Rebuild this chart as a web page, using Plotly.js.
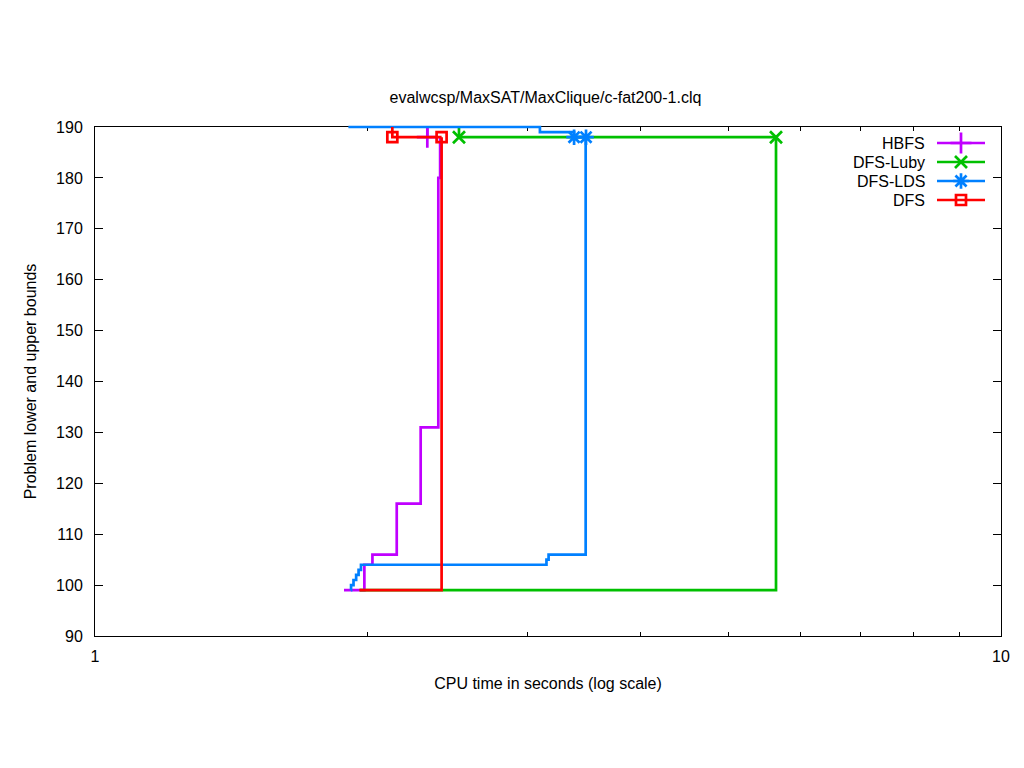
<!DOCTYPE html>
<html>
<head>
<meta charset="utf-8">
<script src="https://cdn.plot.ly/plotly-3.0.1.min.js"></script>
<style>html,body{margin:0;padding:0;background:#fff;}#chart{width:1024px;height:768px;}</style>
</head>
<body>
<div id="chart"></div>
<script>
// ---- data (CPU time in seconds, bound value) ----
const seriesNames = ["HBFS", "DFS-Luby", "DFS-LDS", "DFS"];
const seriesColors = ["#c000ff", "#00c000", "#0080ff", "#ff0000"];
const seriesSymbols = ["cross-thin-open", "x-thin-open", "asterisk-open", "square-open"];

// lower bounds
const hbfsLowT = [1.883, 1.983, 2.024, 2.153, 2.288, 2.393, 2.404];
const hbfsLowV = [99, 104, 106, 116, 131, 180, 188];
const lubyLowT = [1.960, 5.645];
const lubyLowV = [99, 188];
const ldsLowT = [1.916, 1.917, 1.929, 1.942, 1.954, 1.966, 3.150, 3.167, 3.480];
const ldsLowV = [99, 100, 101, 102, 103, 104, 105, 106, 188];
const dfsLowT = [1.958, 2.413];
const dfsLowV = [99, 188];

// upper bounds
const hbfsUpT = [2.327, 2.327];
const hbfsUpV = [190, 188];
const lubyUpT = [2.522, 2.522, 5.645];
const lubyUpV = [190, 188, 188];
const ldsUpT = [1.904, 3.098, 3.379, 3.483];
const ldsUpV = [190, 189, 188, 188];
const dfsUpT = [2.129, 2.129, 2.413];
const dfsUpV = [190, 188, 188];

// solutions found
const hbfsSolT = [2.327];
const hbfsSolV = [188];
const lubySolT = [2.522, 5.645];
const lubySolV = [188, 188];
const ldsSolT = [3.379, 3.483];
const ldsSolV = [188, 188];
const dfsSolT = [2.129, 2.413];
const dfsSolV = [188, 188];

const xTickVals = [1, 10];
const xTickText = ["1", "10"];
const xMinorVals = [2, 3, 4, 5, 6, 7, 8, 9];
const yTickVals = [90, 100, 110, 120, 130, 140, 150, 160, 170, 180, 190];
const yMin = 90, yMax = 190, xLogMin = 0, xLogMax = 1;

// ---- build ----
const LW = 2.7;
const FONT = "Liberation Sans, Arial, sans-serif";
const FS = 16;
const markerSizes = [15, 12, 13, 10];

// geometry: main plot area 509 px high; an extra 5 px on top for an unclipped copy of the y scale
const MT = 122, MB = 132, H = 768 - MT - MB, PLOT_H = 509;
const yTopExt = yMin + H * (yMax - yMin) / PLOT_H;

const all = [
  [hbfsLowT, hbfsLowV, hbfsUpT, hbfsUpV, hbfsSolT, hbfsSolV],
  [lubyLowT, lubyLowV, lubyUpT, lubyUpV, lubySolT, lubySolV],
  [ldsLowT, ldsLowV, ldsUpT, ldsUpV, ldsSolT, ldsSolV],
  [dfsLowT, dfsLowV, dfsUpT, dfsUpV, dfsSolT, dfsSolV]
];

const traces = [];
all.forEach((s, i) => {
  const c = seriesColors[i];
  traces.push({x: s[0], y: s[1], mode: "lines", line: {color: c, width: LW, shape: "hv"}, showlegend: false, hoverinfo: "skip"});
  traces.push({x: s[2], y: s[3], xaxis: "x5", yaxis: "y3", mode: "lines", line: {color: c, width: LW, shape: "hv"}, showlegend: false, hoverinfo: "skip"});
  traces.push({x: s[4], y: s[5], xaxis: "x5", yaxis: "y3", mode: "markers", marker: {symbol: seriesSymbols[i], size: markerSizes[i], color: c, line: {color: c, width: LW}}, showlegend: false, name: seriesNames[i], cliponaxis: false});
});

// custom gnuplot-style key (overlay axes in pixel units)
const annotations = [];
const keyRowsY = [143, 162, 181, 200];
seriesNames.forEach((n, i) => {
  const c = seriesColors[i];
  traces.push({x: [937, 985], y: [keyRowsY[i], keyRowsY[i]], xaxis: "x2", yaxis: "y2", mode: "lines", line: {color: c, width: LW}, showlegend: false, hoverinfo: "skip"});
  traces.push({x: [961], y: [keyRowsY[i]], xaxis: "x2", yaxis: "y2", mode: "markers", marker: {symbol: seriesSymbols[i], size: markerSizes[i], color: c, line: {color: c, width: LW}}, showlegend: false, hoverinfo: "skip"});
  annotations.push({xref: "x2", yref: "y2", x: 927, y: keyRowsY[i], text: n, showarrow: false, xanchor: "right", yanchor: "middle", font: {family: FONT, size: FS, color: "#000"}});
});

const layout = {
  width: 1024, height: 768,
  margin: {l: 95, r: 23, t: MT, b: MB},
  paper_bgcolor: "#fff", plot_bgcolor: "rgba(0,0,0,0)",
  font: {family: FONT, size: FS, color: "#000"},
  showlegend: false,
  title: {text: "evalwcsp/MaxSAT/MaxClique/c-fat200-1.clq", font: {family: FONT, size: FS, color: "#000"}, x: 0.5327, xanchor: "center", y: 1 - 97/768, yref: "container", yanchor: "middle"},
  xaxis: {
    type: "log", range: [xLogMin, xLogMax], tickvals: xTickVals, ticktext: xTickText,
    ticks: "inside", ticklen: 8, tickcolor: "#000", tickwidth: 1,
    showline: true, linecolor: "#000", linewidth: 1, mirror: "allticks",
    showgrid: false, zeroline: false,
    minor: {tickvals: xMinorVals, ticks: "inside", ticklen: 4, tickcolor: "#000", tickwidth: 1, showgrid: false},
    ticklabelstandoff: 6,
    title: {text: "CPU time in seconds (log scale)", font: {family: FONT, size: FS, color: "#000"}, standoff: 13}
  },
  xaxis5: {type: "log", range: [xLogMin, xLogMax], overlaying: "x", anchor: "y3", visible: false, showgrid: false, zeroline: false, fixedrange: true},
  yaxis: {
    domain: [0, PLOT_H / H],
    range: [yMin, yMax], tickvals: yTickVals,
    ticks: "inside", ticklen: 8, tickcolor: "#000", tickwidth: 1,
    showline: true, linecolor: "#000", linewidth: 1, mirror: "allticks",
    showgrid: false, zeroline: false,
    ticklabelstandoff: 8,
    title: {text: "Problem lower and upper bounds", font: {family: FONT, size: FS, color: "#000"}, standoff: 15}
  },
  yaxis3: {domain: [0, 1], range: [yMin, yTopExt], anchor: "x5", visible: false, showgrid: false, zeroline: false, fixedrange: true},
  xaxis2: {overlaying: "x", range: [95, 1001], visible: false, fixedrange: true},
  yaxis2: {overlaying: "y", range: [636, 127], visible: false, fixedrange: true},
  annotations: annotations
};

Plotly.newPlot("chart", traces, layout, {displayModeBar: false, staticPlot: true});
</script>
</body>
</html>
